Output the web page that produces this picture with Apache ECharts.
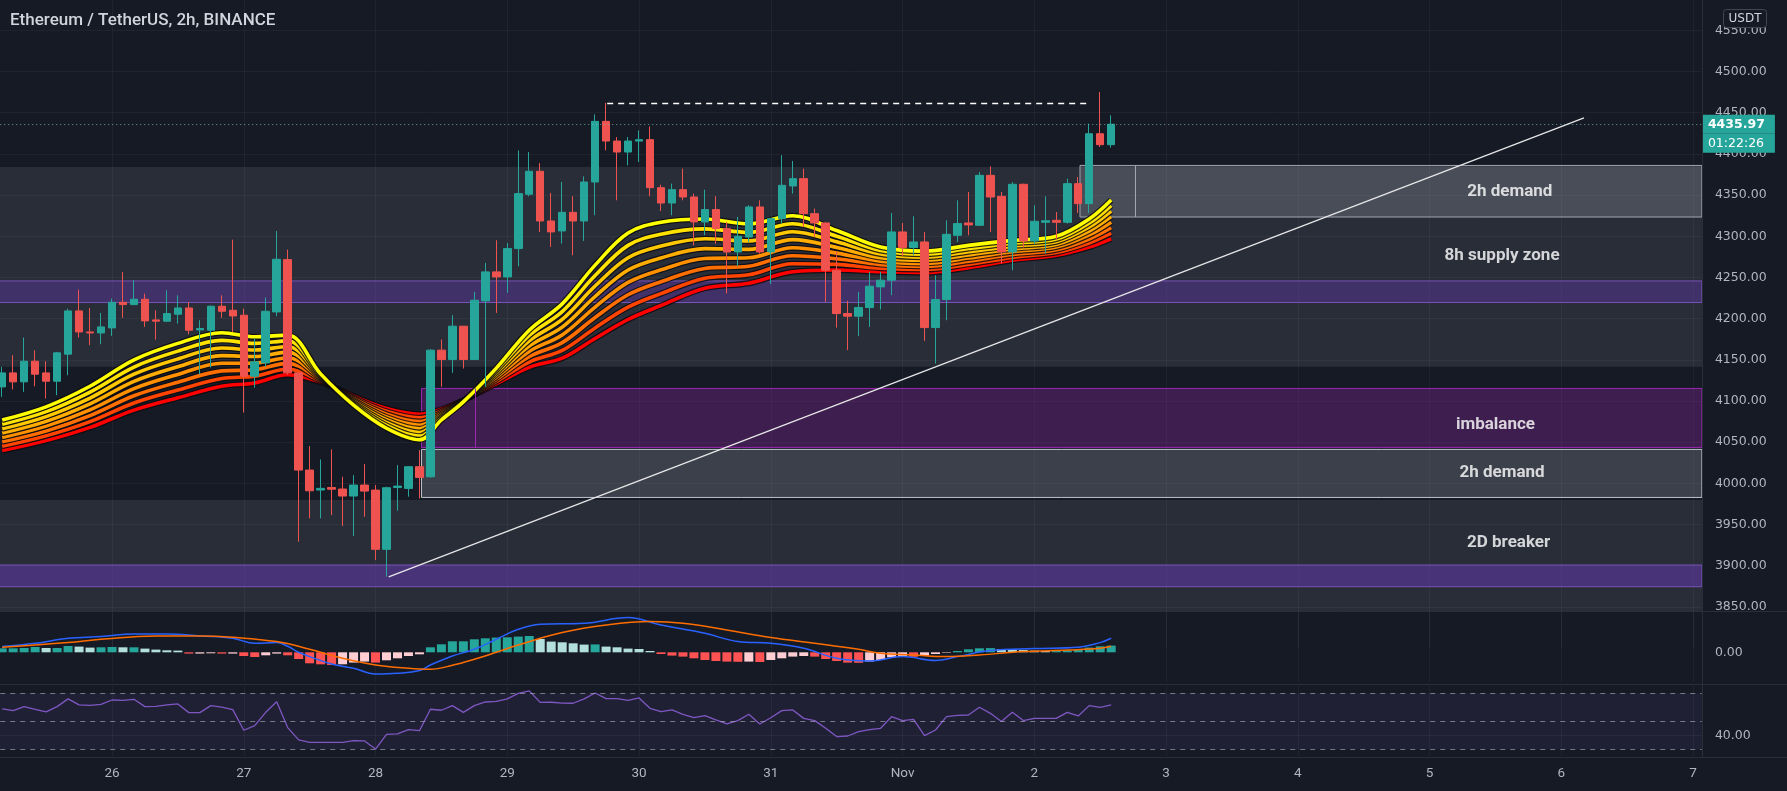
<!DOCTYPE html>
<html><head><meta charset="utf-8">
<script src="https://cdn.jsdelivr.net/npm/echarts@6/dist/echarts.min.js"></script>
<style>html,body{margin:0;padding:0;background:#161a25;}#c{width:1787px;height:791px;}</style>
</head><body><div id="c"></div>
<script>
// ---------- DATA (2h bars, index 0 = Oct 26 00:00) ----------
const firstBar = -10;
const opens = [4117.2,4134.2,4123.3,4148.4,4134.2,4124.1,4156.9,4209.4,4183.9,4182.7,
4188.8,4219.9,4217.1,4223.6,4198.5,4196.9,4205.4,4213.0,4186.4,4186.0,
4215.1,4210.2,4204.2,4130.2,4146.3,4208.2,4271.7,4134.3,4016.2,3992.0,
3995.0,3993.2,3984.7,3998.0,3991.9,3920.0,3995.0,3994.0,4020.3,4008.1,
4161.8,4150.4,4190.9,4150.4,4221.6,4256.8,4250.7,4285.1,4351.0,4378.9,
4318.6,4306.5,4329.1,4318.6,4365.9,4439.5,4415.6,4402.3,4415.6,4417.3,
4359.0,4340.4,4356.6,4347.7,4317.4,4332.4,4309.3,4281.0,4299.2,4335.6,
4281.0,4321.4,4361.1,4370.0,4327.5,4316.2,4258.8,4206.2,4203.0,4213.5,
4238.6,4246.7,4305.3,4286.3,4293.1,4189.2,4223.2,4301.2,4316.2,4313.4,
4374.0,4348.5,4281.0,4363.1,4294.4,4317.0,4319.4,4317.0,4363.9,4339.6,4424.5,4411.2];
const closes = [4134.2,4123.3,4148.4,4132.6,4124.1,4158.5,4209.4,4183.9,4182.7,4190.0,
4219.9,4217.1,4223.6,4197.3,4197.0,4206.2,4213.0,4186.0,4188.0,4215.1,
4209.0,4203.3,4130.2,4147.6,4209.0,4272.1,4134.3,4016.2,3991.1,3994.0,
3993.0,3984.7,3998.0,3990.7,3920.0,3994.8,3996.8,4020.3,4007.3,4161.8,
4150.4,4190.9,4150.4,4222.4,4256.8,4250.7,4285.1,4351.8,4378.9,4318.6,
4305.3,4329.1,4318.6,4365.9,4439.5,4415.6,4402.3,4415.6,4417.3,4359.0,
4340.4,4356.6,4347.7,4317.4,4332.4,4309.3,4281.0,4300.0,4335.6,4281.0,
4321.4,4361.9,4370.0,4327.5,4316.2,4258.8,4206.2,4203.0,4213.5,4239.4,
4246.7,4305.3,4286.3,4293.1,4189.2,4223.2,4302.4,4315.4,4313.8,4374.0,
4347.7,4281.0,4363.1,4294.4,4318.2,4318.9,4317.0,4363.9,4339.6,4424.5,4411.2,4435.97];
const lows = [4105.1,4114.0,4111.2,4118.0,4103.1,4107.1,4131.4,4177.1,4167.8,4169.0,
4179.1,4200.9,4216.3,4190.0,4174.6,4196.1,4194.0,4181.1,4132.2,4140.7,
4200.9,4183.9,4086.1,4116.4,4141.5,4203.0,4132.0,3929.3,3957.6,3957.6,
3961.6,3948.3,3936.2,3959.6,3907.0,3886.8,3966.9,3983.9,3981.8,4007.0,
4117.3,4134.3,4139.5,4150.0,4117.3,4207.0,4231.3,4263.6,4348.5,4305.3,
4287.1,4291.1,4277.0,4294.4,4325.5,4404.3,4343.7,4386.1,4390.2,4348.5,
4330.7,4325.5,4343.7,4289.1,4301.2,4291.1,4230.5,4263.6,4293.1,4279.0,
4241.8,4315.4,4351.8,4311.3,4299.2,4220.4,4189.2,4161.8,4178.7,4190.0,
4211.1,4228.5,4275.8,4277.0,4173.1,4145.6,4198.1,4293.1,4301.2,4312.6,
4305.3,4266.9,4258.8,4286.3,4290.3,4279.0,4296.0,4315.4,4328.3,4328.3,4408.4,4407.6];
const highs = [4141.5,4155.6,4177.1,4161.7,4148.4,4159.7,4212.2,4235.3,4213.0,4207.0,
4224.4,4256.7,4246.6,4230.4,4210.2,4234.5,4228.4,4220.3,4198.1,4215.9,
4228.4,4295.9,4212.2,4175.9,4225.6,4306.4,4283.8,4134.3,4045.3,4029.1,
4041.3,4008.1,4010.1,4023.5,3998.0,3996.0,4022.3,4021.0,4040.5,4163.0,
4174.7,4204.2,4191.0,4232.5,4267.7,4295.2,4291.9,4404.3,4402.3,4389.0,
4352.6,4365.9,4348.5,4372.8,4448.0,4462.0,4420.5,4420.5,4428.6,4433.4,
4362.7,4363.9,4382.1,4351.8,4356.6,4348.5,4317.4,4323.5,4337.6,4343.7,
4322.2,4398.3,4391.4,4382.1,4333.6,4317.0,4281.0,4221.6,4232.5,4256.8,
4256.8,4328.3,4316.2,4324.3,4305.3,4252.7,4319.4,4343.7,4353.8,4378.0,
4384.9,4353.8,4365.9,4363.9,4337.6,4348.5,4329.5,4370.0,4372.0,4436.7,4475.1,4446.8];

// EMA ribbon (read at sample bars), fastest (yellow) -> slowest (red)
const emaIdx = [-10,-6,-2,2,6,10,13,16,19,22,25,28,30,32,35,38,41,44,47,50,54,58,62,66,70,74,78,82,86,89,91];
const ema1 = [4077,4093,4118,4150,4170,4183,4178,4180,4133,4095,4067,4053,4077,4099,4140,4186,4218,4265,4304,4317,4321,4315,4325,4307,4287,4282,4289,4295,4300,4321,4344];
const ema2 = [4071.7,4087.1,4110.9,4141.3,4160.6,4173.7,4170,4173.1,4131.6,4096.6,4070.4,4057.4,4078.9,4099.3,4137.3,4179.6,4208.6,4252.3,4289,4302.6,4309,4304.7,4315.3,4300.1,4282.7,4278.3,4285.1,4291.6,4296.7,4316.1,4337.3];
const ema3 = [4066.4,4081.3,4103.7,4132.6,4151.1,4164.4,4162,4166.3,4130.1,4098.1,4073.9,4061.9,4080.7,4099.6,4134.6,4173.1,4199.1,4239.6,4274,4288.1,4297,4294.4,4305.6,4293.3,4278.4,4274.6,4281.3,4288.1,4293.4,4311.3,4330.6];
const ema4 = [4061.1,4075.4,4096.6,4123.9,4141.7,4155.1,4154,4159.4,4128.7,4099.7,4077.3,4066.3,4082.6,4099.9,4131.9,4166.7,4189.7,4226.9,4259,4273.7,4285,4284.1,4295.9,4286.4,4274.1,4270.9,4277.4,4284.7,4290.1,4306.4,4323.9];
const ema5 = [4055.9,4069.6,4089.4,4115.1,4132.3,4145.9,4146,4152.6,4127.3,4101.3,4080.7,4070.7,4084.4,4100.1,4129.1,4160.3,4180.3,4214.1,4244,4259.3,4273,4273.9,4286.1,4279.6,4269.9,4267.1,4273.6,4281.3,4286.9,4301.6,4317.1];
const ema6 = [4050.6,4063.7,4082.3,4106.4,4122.9,4136.6,4138,4145.7,4125.9,4102.9,4084.1,4075.1,4086.3,4100.4,4126.4,4153.9,4170.9,4201.4,4229,4244.9,4261,4263.6,4276.4,4272.7,4265.6,4263.4,4269.7,4277.9,4283.6,4296.7,4310.4];
const ema7 = [4045.3,4057.9,4075.1,4097.7,4113.4,4127.3,4130,4138.9,4124.4,4104.4,4087.6,4079.6,4088.1,4100.7,4123.7,4147.4,4161.4,4188.7,4214,4230.4,4249,4253.3,4266.7,4265.9,4261.3,4259.7,4265.9,4274.4,4280.3,4291.9,4303.7];
const ema8 = [4040,4052,4068,4089,4104,4118,4122,4132,4123,4106,4091,4084,4090,4101,4121,4141,4152,4176,4199,4216,4237,4243,4257,4259,4257,4256,4262,4271,4277,4287,4297];

// MACD pane
const hist = [4,4,4.3,5.3,4.3,4.3,6.3,5.7,4.7,5,
5.3,5,5,3.7,2.7,2,1.7,-1.3,-1.3,-1,
-1.3,-1.3,-3.7,-4.7,-3,-1.3,-3,-6.7,-11,-12,
-12.7,-12,-10.3,-9.3,-10.3,-8,-6,-3.7,-2,5,
8,11,11,13,14,14.7,15,15.7,
16.3,13.3,10.7,10,9,7.7,7.9,5.7,5,3.7,3.3,1.3,
-1.7,-3.3,-4.3,-6,-7.7,-8.7,-9.3,-9.5,-9.3,-9.7,
-7.7,-6,-4.3,-3.7,-4.3,-6.7,-8.7,-10.3,-10.5,-9.3,
-7.7,-5,-4.3,-4.5,-3.3,-1.7,-0.5,1.3,3,4,
4.2,3.3,3,2.3,1.7,1.3,2,2,2.3,4.7,6,6.7];
const macdX = [-10,-7,-4,-1,2,5,8,11,13,15,16,17,18,20,22,24,26,28,29,31,33,35,37,39,43,47,50,54,57,60,63,66,69,72,75,77,80,84,88,90,91];
const macdY = [5.7,9,14,15.7,18.3,18.3,16.3,14,9,9.7,6,0,-4.3,-11.7,-16,-21.7,-21,-18.3,-12.7,-3.7,3,13,23,28,29,34.7,27.3,19,10.7,9,4,-6,-8.7,-4.3,-8.3,-4.3,1.7,3.7,5,9.7,14];
const signalX = [-10,-4,-1,4,8,11,15,18,21,24,27,29,31,33,35,37,41,45,49,52,56,60,64,68,70,73,76,79,83,87,90,91];
const signalY = [5,9.7,13,16.3,16.3,15,10.7,3,-6,-12.7,-16,-17,-13,-7,0,7.3,19.7,27.3,30.7,29,22.3,14.7,9,3,-1,-2.7,-4.3,-2.7,0.7,2.3,4,6];

// RSI pane
const rsi = [58.8,57.6,60.5,58.6,56.7,60.5,66,61.7,61.4,62.1,
65.2,65,65.7,60.5,60.7,61.7,62.4,56.2,56.2,61.2,
60.2,58.3,43.6,46.9,56.4,64,45.5,36.7,35,35,
35,35,36.2,36,30.2,40.7,41,44,43.3,58.6,
57.9,61.2,56.4,61.2,63.8,64.3,66,70,
71.7,63.5,63.6,63,62.9,66,70.2,66.2,66.2,65,66.7,59.3,
56.9,58.1,55,52.6,54,51,48.1,50.5,55,48.1,
52.5,57.6,58.1,52.1,50.5,45,39.1,39.5,42.6,44,
45,53.3,50.5,51.4,39.8,43.8,53.3,54.3,54.5,60,
55.7,49.8,56.5,50.5,52.1,52.1,52.1,56.4,53.8,61.2,60,61.7];

// Axis tick labels
const dayLabels = ['26','27','28','29','30','31','Nov','2','3','4','5','6','7'];
const lastPrice = 4435.97;
const countdown = '01:22:26';

// Drawn zones / annotations (bar index, price)
const supplyZone = [4141.5, 4384];
const supplyPurple = [4219.6, 4245.8];
const breakerZone = [3845.3, 3980];
const breakerPurple = [3874.6, 3901];
const demandTop = {x: 88.16, lo: 4323.4, hi: 4386, inner: 93.17};
const imbalance = {x: 28.19, lo: 4043.7, hi: 4115.3, inner: 33.1};
const demandLow = {x: 28.19, lo: 3983, hi: 4041.3};
const trendLine = [[25.2, 3886.7], [134.06, 4443.8]];
const highLine = [[45.1, 4462], [89, 4462]];
const zoneLabelText = ['2h demand','8h supply zone','imbalance','2h demand','2D breaker'];
const zoneLabelX = [127.3, 126.6, 126.0, 126.6, 127.2];
const zoneLabelY = [4353.8, 4276.1, 4071.3, 4013.2, 3927.4];

// ---------- CHART ----------
const FONT = 'Roboto, "Noto Sans", sans-serif';
const AXFONT = '"DejaVu Sans", Roboto, sans-serif';
const X_MIN = -12, X_MAX = 144.8;
const gridC = 'rgba(255,255,255,0.045)';
const chart = echarts.init(document.getElementById('c'), null, {renderer: 'canvas'});

const candleData = opens.map((o, k) => [firstBar + k, o, closes[k], lows[k], highs[k]]);
const emaLines = [ema1, ema2, ema3, ema4, ema5, ema6, ema7, ema8];
const emaColors = ['#ffff00','#ffe200','#ffc800','#ffad00','#ff9000','#ff6e00','#ff4400','#ff0000'];

const histData = hist.map((v, k) => {
  const prev = k ? hist[k - 1] : v;
  const col = v >= 0 ? (v >= prev ? '#26a69a' : '#b2dfdb') : (v < prev ? '#ff5252' : '#ffcdd2');
  return {value: [firstBar + k, v], itemStyle: {color: col}};
});

function xAxisFor(g) {
  return {
    gridIndex: g, type: 'value', min: X_MIN, max: X_MAX, interval: 12,
    axisLine: {show: false}, axisTick: {show: false},
    axisLabel: {
      show: g === 2, color: '#b2b5be', fontSize: 13.5, margin: 10, fontFamily: FONT,
      showMinLabel: false, showMaxLabel: false,
      formatter: v => {
        const k = Math.round(v / 12);
        if (Math.abs(v - k * 12) > 0.01 || k < 0 || k >= dayLabels.length) return '';
        return dayLabels[k];
      }
    },
    splitLine: {show: true, lineStyle: {color: gridC, width: 1}}
  };
}

const priceSplitColors = Array.from({length: 17}, (_, k) => k === 0 ? 'rgba(0,0,0,0)' : gridC);
const rsiSplitColors = Array.from({length: 11}, (_, k) => k === 3 ? 'rgba(255,255,255,0.05)' : 'rgba(0,0,0,0)');

const series = [];

// zones
series.push({
  type: 'line', xAxisIndex: 0, yAxisIndex: 0, data: [], z: 1, silent: true,
  markArea: {
    silent: true,
    data: [
      [{yAxis: supplyZone[0], itemStyle: {color: 'rgba(120,123,134,0.2)'}}, {yAxis: supplyZone[1]}],
      [{yAxis: supplyPurple[0], itemStyle: {color: 'rgba(103,58,183,0.38)', borderColor: 'rgba(126,87,194,0.9)', borderWidth: 1}}, {yAxis: supplyPurple[1]}],
      [{yAxis: breakerZone[0], itemStyle: {color: 'rgba(120,123,134,0.2)'}}, {yAxis: breakerZone[1]}],
      [{yAxis: breakerPurple[0], itemStyle: {color: 'rgba(103,58,183,0.5)', borderColor: 'rgba(126,87,194,0.9)', borderWidth: 1}}, {yAxis: breakerPurple[1]}],
      [{xAxis: demandTop.x, yAxis: demandTop.lo, itemStyle: {color: 'rgba(149,152,161,0.3)', borderColor: '#a3a6af', borderWidth: 1}}, {xAxis: X_MAX, yAxis: demandTop.hi}],
      [{xAxis: imbalance.x, yAxis: imbalance.lo, itemStyle: {color: 'rgba(156,39,176,0.3)', borderColor: '#9c27b0', borderWidth: 1}}, {xAxis: X_MAX, yAxis: imbalance.hi}],
      [{xAxis: demandLow.x, yAxis: demandLow.lo, itemStyle: {color: 'rgba(149,152,161,0.3)', borderColor: '#c0c3cc', borderWidth: 1}}, {xAxis: X_MAX, yAxis: demandLow.hi}]
    ]
  },
  markLine: {
    silent: true, symbol: ['none', 'none'], label: {show: false},
    data: [
      [{coord: trendLine[0], lineStyle: {color: '#e6e6e6', width: 1.3, type: 'solid'}}, {coord: trendLine[1]}],
      [{coord: highLine[0], lineStyle: {color: '#ffffff', width: 1.3, type: [6, 5]}}, {coord: highLine[1]}],
      [{coord: [demandTop.inner, demandTop.lo], lineStyle: {color: '#a3a6af', width: 1, type: 'solid'}}, {coord: [demandTop.inner, demandTop.hi]}],
      [{coord: [imbalance.inner, imbalance.lo], lineStyle: {color: '#9c27b0', width: 1, type: 'solid'}}, {coord: [imbalance.inner, imbalance.hi]}]
    ]
  }
});

// EMA ribbon (slow first, fast on top)
for (let k = 7; k >= 0; k--) {
  const d = emaIdx.map((x, j) => [x, emaLines[k][j]]);
  series.push({type: 'line', xAxisIndex: 0, yAxisIndex: 0, data: d, z: 2, smooth: 0.35, symbol: 'none', silent: true,
    lineStyle: {color: 'rgba(12,12,16,0.85)', width: 6}});
  series.push({type: 'line', xAxisIndex: 0, yAxisIndex: 0, data: d, z: 2, smooth: 0.35, symbol: 'none', silent: true,
    lineStyle: {color: emaColors[k], width: 3.6}});
}

// candles
series.push({
  type: 'candlestick', xAxisIndex: 0, yAxisIndex: 0, z: 3, barWidth: 8,
  encode: {x: 0, y: [1, 2, 3, 4]},
  data: candleData,
  itemStyle: {color: '#26a69a', color0: '#ef5350', borderColor: '#26a69a', borderColor0: '#ef5350', borderWidth: 1},
  markLine: {
    silent: true, symbol: ['none', 'none'],
    lineStyle: {color: 'rgba(120,190,185,0.8)', type: [1, 3], width: 1},
    label: {
      show: true, position: 'end', distance: 1,
      formatter: '{s| }\n{p|' + lastPrice.toFixed(2) + '}\n{t|' + countdown + '}',
      rich: {
        s: {height: 19, lineHeight: 19, fontSize: 13},
        p: {color: '#ffffff', backgroundColor: '#26a69a', fontSize: 12.5, fontWeight: 'bold', fontFamily: AXFONT, height: 19, lineHeight: 19, width: 64, padding: [0, 3, 0, 5]},
        t: {color: '#ffffff', backgroundColor: '#26a69a', fontSize: 12.5, fontFamily: AXFONT, height: 19, lineHeight: 19, width: 64, padding: [0, 3, 0, 5]}
      }
    },
    data: [{yAxis: lastPrice}]
  }
});

// zone labels
series.push({
  type: 'scatter', xAxisIndex: 0, yAxisIndex: 0, z: 4, symbolSize: 1, silent: true,
  itemStyle: {color: 'rgba(0,0,0,0)'},
  data: zoneLabelX.map((x, k) => ({value: [x, zoneLabelY[k]], name: zoneLabelText[k]})),
  label: {show: true, position: 'inside', formatter: '{b}', color: '#ffffff', fontSize: 17, fontWeight: 'bold', fontFamily: FONT}
});

// MACD
series.push({type: 'bar', xAxisIndex: 1, yAxisIndex: 1, barWidth: 9, data: histData, silent: true});
series.push({type: 'line', xAxisIndex: 1, yAxisIndex: 1, data: macdX.map((x, k) => [x, macdY[k]]), smooth: 0.4, symbol: 'none', z: 3,
  lineStyle: {color: '#2962ff', width: 1.5}});
series.push({type: 'line', xAxisIndex: 1, yAxisIndex: 1, data: signalX.map((x, k) => [x, signalY[k]]), smooth: 0.4, symbol: 'none', z: 3,
  lineStyle: {color: '#ff6d00', width: 1.5}});

// RSI
series.push({
  type: 'line', xAxisIndex: 2, yAxisIndex: 2, data: rsi.map((v, k) => [firstBar + k, v]), symbol: 'none', z: 3,
  lineStyle: {color: '#7e57c2', width: 1.3},
  markArea: {silent: true, data: [[{yAxis: 30, itemStyle: {color: 'rgba(126,87,194,0.1)'}}, {yAxis: 70}]]},
  markLine: {silent: true, symbol: ['none', 'none'], label: {show: false},
    lineStyle: {color: 'rgba(180,183,192,0.6)', type: [5, 5], width: 1},
    data: [{yAxis: 70}, {yAxis: 50}, {yAxis: 30}]}
});

const gridBase = {left: -19.76, right: 85.1, outerBoundsMode: 'none', containLabel: false};
const yLabel = {color: '#b2b5be', fontSize: 12.5, margin: 13, fontFamily: AXFONT};
const option = {
  animation: false,
  backgroundColor: '#161a25',
  textStyle: {fontFamily: FONT},
  title: {text: 'Ethereum / TetherUS, 2h, BINANCE', left: 10, top: 12, padding: 0,
    textStyle: {color: '#d1d4dc', fontSize: 17, fontWeight: 500, fontFamily: FONT}},
  grid: [
    Object.assign({top: -10.85, height: 659.05}, gridBase),
    Object.assign({top: 612.3, height: 70}, gridBase),
    Object.assign({top: 686.3, height: 70}, gridBase)
  ],
  xAxis: [xAxisFor(0), xAxisFor(1), xAxisFor(2)],
  yAxis: [
    {gridIndex: 0, type: 'value', position: 'right', min: 3800, max: 4600, interval: 50,
      axisLine: {show: false}, axisTick: {show: false},
      axisLabel: Object.assign({showMinLabel: false, showMaxLabel: false, formatter: v => v.toFixed(2)}, yLabel),
      splitLine: {show: true, lineStyle: {color: priceSplitColors, width: 1}}},
    {gridIndex: 1, type: 'value', position: 'right', min: -30, max: 40, interval: 10,
      axisLine: {show: false}, axisTick: {show: false},
      axisLabel: Object.assign({formatter: v => v === 0 ? '0.00' : ''}, yLabel),
      splitLine: {show: false}},
    {gridIndex: 2, type: 'value', position: 'right', min: 25, max: 75, interval: 5,
      axisLine: {show: false}, axisTick: {show: false},
      axisLabel: Object.assign({formatter: v => v === 40 ? '40.00' : ''}, yLabel),
      splitLine: {show: true, lineStyle: {color: rsiSplitColors, width: 1}}}
  ],
  graphic: [
    {type: 'line', z: 50, shape: {x1: 0, y1: 611.5, x2: 1787, y2: 611.5}, style: {stroke: '#2a2e39', lineWidth: 1}},
    {type: 'line', z: 50, shape: {x1: 0, y1: 684.5, x2: 1787, y2: 684.5}, style: {stroke: '#2a2e39', lineWidth: 1}},
    {type: 'line', z: 50, shape: {x1: 0, y1: 757.5, x2: 1787, y2: 757.5}, style: {stroke: '#2a2e39', lineWidth: 1}},
    {type: 'line', z: 50, shape: {x1: 1702.5, y1: 0, x2: 1702.5, y2: 757}, style: {stroke: '#2a2e39', lineWidth: 1}},
    {type: 'rect', z: 100, shape: {x: 1723.5, y: 9.5, width: 43, height: 18, r: 3}, style: {fill: '#161a25', stroke: '#434651', lineWidth: 1}},
    {type: 'text', z: 101, style: {x: 1745, y: 19, text: 'USDT', fill: '#d1d4dc', font: '12px ' + AXFONT, align: 'center', verticalAlign: 'middle'}}
  ],
  series: series
};
chart.setOption(option);
</script></body></html>
